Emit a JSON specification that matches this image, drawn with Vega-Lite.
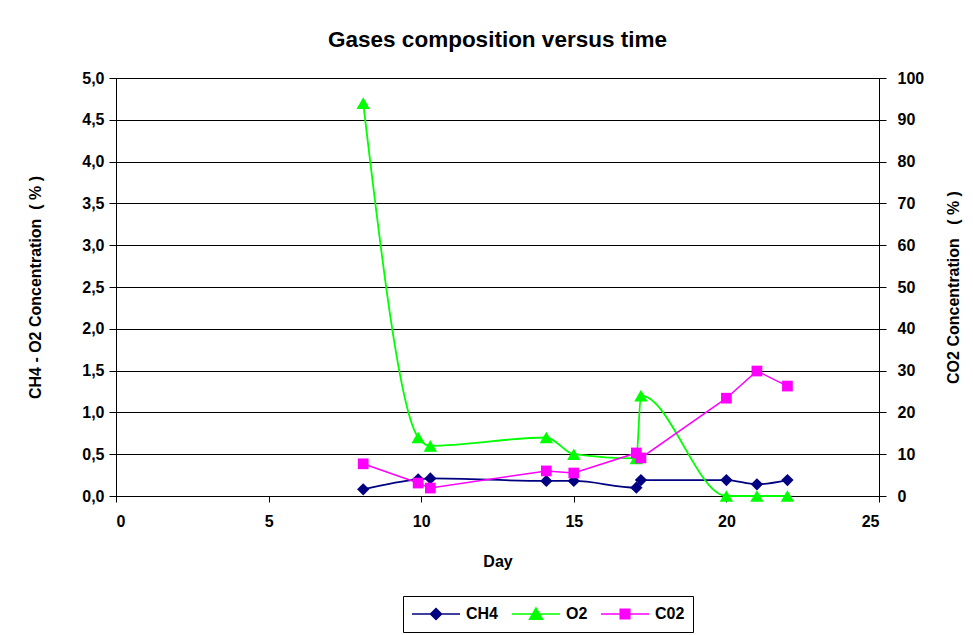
{
  "$schema": "https://vega.github.io/schema/vega-lite/v6.json",
  "autosize": "none",
  "width": 763,
  "height": 418,
  "padding": {"left": 116, "top": 78, "right": 94, "bottom": 139},
  "background": "white",
  "title": {
    "text": "Gases composition versus time",
    "font": "Liberation Sans",
    "fontSize": 22.5,
    "fontWeight": "bold",
    "color": "#000",
    "anchor": "middle",
    "offset": 19
  },
  "config": {
    "view": {"stroke": "#000", "strokeWidth": 1},
    "axis": {
      "labelFont": "Liberation Sans",
      "labelFontSize": 16,
      "labelFontWeight": "bold",
      "labelColor": "#000",
      "titleFont": "Liberation Sans",
      "titleFontSize": 16,
      "titleFontWeight": "bold",
      "titleColor": "#000",
      "domainColor": "#000",
      "tickColor": "#000",
      "tickSize": 7,
      "gridColor": "#000",
      "gridOpacity": 1
    },
    "legend": {
      "labelFont": "Liberation Sans",
      "labelFontSize": 16,
      "labelFontWeight": "bold",
      "labelColor": "#000"
    }
  },
  "data": {
    "values": [
      {"day": 8.1, "gas": "CH4", "value": 0.08},
      {"day": 9.9, "gas": "CH4", "value": 0.2},
      {"day": 10.3, "gas": "CH4", "value": 0.21},
      {"day": 14.1, "gas": "CH4", "value": 0.18},
      {"day": 15.0, "gas": "CH4", "value": 0.18},
      {"day": 17.05, "gas": "CH4", "value": 0.1},
      {"day": 17.2, "gas": "CH4", "value": 0.19},
      {"day": 20.0, "gas": "CH4", "value": 0.19},
      {"day": 21.0, "gas": "CH4", "value": 0.14},
      {"day": 22.0, "gas": "CH4", "value": 0.19},
      {"day": 8.1, "gas": "O2", "value": 4.7},
      {"day": 9.9, "gas": "O2", "value": 0.7},
      {"day": 10.3, "gas": "O2", "value": 0.6},
      {"day": 14.1, "gas": "O2", "value": 0.7},
      {"day": 15.0, "gas": "O2", "value": 0.5},
      {"day": 17.05, "gas": "O2", "value": 0.45},
      {"day": 17.2, "gas": "O2", "value": 1.2},
      {"day": 20.0, "gas": "O2", "value": 0.0},
      {"day": 21.0, "gas": "O2", "value": 0.0},
      {"day": 22.0, "gas": "O2", "value": 0.0},
      {"day": 8.1, "gas": "C02", "value": 7.7},
      {"day": 9.9, "gas": "C02", "value": 3.1},
      {"day": 10.3, "gas": "C02", "value": 1.9},
      {"day": 14.1, "gas": "C02", "value": 6.0},
      {"day": 15.0, "gas": "C02", "value": 5.5},
      {"day": 17.05, "gas": "C02", "value": 10.3},
      {"day": 17.2, "gas": "C02", "value": 9.1},
      {"day": 20.0, "gas": "C02", "value": 23.4},
      {"day": 21.0, "gas": "C02", "value": 29.9},
      {"day": 22.0, "gas": "C02", "value": 26.3}
    ]
  },
  "encoding": {
    "x": {
      "field": "day",
      "type": "quantitative",
      "scale": {"domain": [0, 25], "nice": false},
      "axis": {
        "title": "Day",
        "values": [0, 5, 10, 15, 20, 25],
        "grid": false,
        "tickSize": 6,
        "labelPadding": 11,
        "titlePadding": 24
      }
    },
    "color": {
      "field": "gas",
      "type": "nominal",
      "scale": {"domain": ["CH4", "O2", "C02"], "range": ["#000080", "#00FF00", "#FF00FF"]},
      "legend": {
        "title": null,
        "orient": "none",
        "direction": "horizontal",
        "legendX": 287,
        "legendY": 518,
        "strokeColor": "#000",
        "padding": 8,
        "symbolSize": 2304,
        "clipHeight": 20,
        "columnPadding": 12,
        "labelOffset": 5,
        "encode": {
          "symbols": {
            "update": {
              "shape": {"signal": "datum.value == 'CH4' ? 'M-1,0H1M0,-0.23L0.23,0L0,0.23L-0.23,0Z' : datum.value == 'O2' ? 'M-1,0H1M0,-0.25L0.27,0.22L-0.27,0.22Z' : 'M-1,0H1M-0.2,-0.2H0.2V0.2H-0.2Z'"},
              "size": {"value": 2304},
              "fill": {"signal": "datum.value == 'CH4' ? '#000080' : datum.value == 'O2' ? '#00FF00' : '#FF00FF'"},
              "stroke": {"signal": "datum.value == 'CH4' ? '#000080' : datum.value == 'O2' ? '#00FF00' : '#FF00FF'"},
              "strokeWidth": {"value": 1.5},
              "fillOpacity": {"value": 1},
              "opacity": {"value": 1}
            }
          }
        }
      }
    }
  },
  "layer": [
    {
      "transform": [{"filter": "datum.gas != 'C02'"}],
      "encoding": {
        "y": {
          "field": "value",
          "type": "quantitative",
          "scale": {"domain": [0, 5], "nice": false},
          "axis": {
            "orient": "left",
            "title": "CH4 - O2 Concentration \u00a0( % )",
            "values": [0, 0.5, 1, 1.5, 2, 2.5, 3, 3.5, 4, 4.5, 5],
            "labelExpr": "replace(format(datum.value, '.1f'), '.', ',')",
            "grid": true,
            "labelPadding": 5,
            "titlePadding": 38
          }
        }
      },
      "layer": [
        {
          "mark": {"type": "line", "strokeWidth": 1.8, "interpolate": "monotone"},
          "encoding": {"detail": {"field": "gas"}}
        },
        {
          "transform": [{"filter": "datum.gas == 'CH4'"}],
          "mark": {"type": "point", "filled": true, "opacity": 1, "shape": "diamond", "size": 150}
        },
        {
          "transform": [{"filter": "datum.gas == 'O2'"}],
          "mark": {"type": "point", "filled": true, "opacity": 1, "shape": "triangle-up", "size": 180}
        }
      ]
    },
    {
      "transform": [{"filter": "datum.gas == 'C02'"}],
      "encoding": {
        "y": {
          "field": "value",
          "type": "quantitative",
          "scale": {"domain": [0, 100], "nice": false},
          "axis": {
            "orient": "right",
            "title": "CO2 Concentration \u00a0 ( % )",
            "values": [0, 10, 20, 30, 40, 50, 60, 70, 80, 90, 100],
            "grid": false,
            "labelPadding": 11,
            "titlePadding": 38,
            "titleAngle": 270
          }
        }
      },
      "layer": [
        {
          "mark": {"type": "line", "strokeWidth": 1.5},
          "encoding": {}
        },
        {
          "mark": {"type": "point", "filled": true, "opacity": 1, "shape": "square", "size": 115}
        }
      ]
    }
  ],
  "resolve": {"scale": {"y": "independent"}}
}
